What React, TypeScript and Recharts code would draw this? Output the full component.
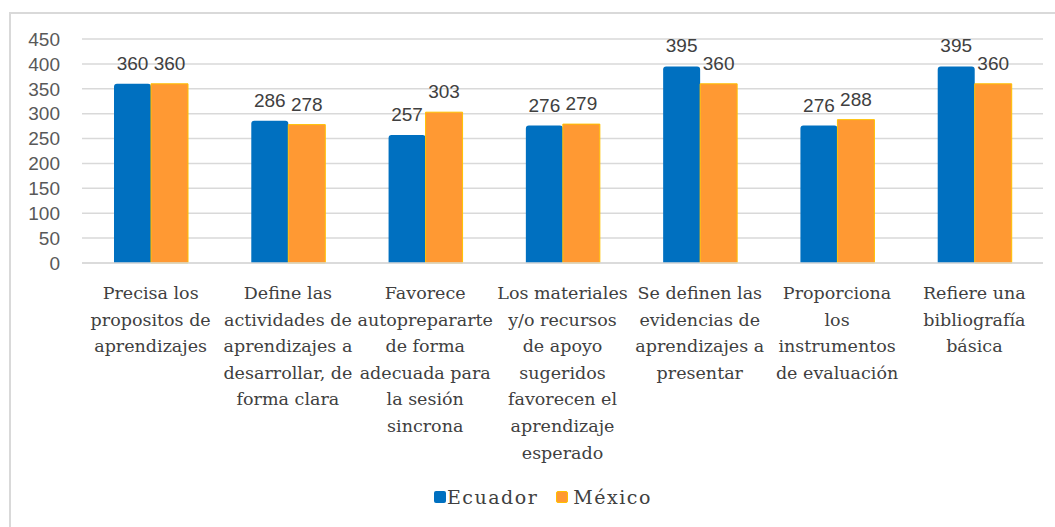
import { Bar, BarChart, CartesianGrid, LabelList, Legend, XAxis, YAxis } from "recharts";

const categories = [
  "Precisa los propositos de aprendizajes",
  "Define las actividades de aprendizajes a desarrollar, de forma clara",
  "Favorece autoprepararte de forma adecuada para la sesion sincrona",
  "Los materiales y/o recursos de apoyo sugeridos favorecen el aprendizaje esperado",
  "Se definen las evidencias de aprendizajes a presentar",
  "Proporciona los instrumentos de evaluación",
  "Refiere una bibliografía básica",
];

const categoryLines = [
  ["Precisa los", "propositos de", "aprendizajes"],
  ["Define las", "actividades de", "aprendizajes a", "desarrollar, de", "forma clara"],
  ["Favorece", "autoprepararte", "de forma", "adecuada para", "la sesión", "sincrona"],
  ["Los materiales", "y/o recursos", "de apoyo", "sugeridos", "favorecen el", "aprendizaje", "esperado"],
  ["Se definen las", "evidencias de", "aprendizajes a", "presentar"],
  ["Proporciona", "los", "instrumentos", "de evaluación"],
  ["Refiere una", "bibliografía", "básica"],
];

const ecuador = [360, 286, 257, 276, 395, 276, 395];
const mexico = [360, 278, 303, 279, 360, 288, 360];
const yTicks = [0, 50, 100, 150, 200, 250, 300, 350, 400, 450];

const data = categories.map((c, i) => ({
  name: c,
  ecuador: ecuador[i],
  mexico: mexico[i],
}));

const BLUE = "#0070C0";
const ORANGE = "#FF9933";
const SERIF = "'DejaVu Serif', 'Liberation Serif', serif";
const SANS = "'Liberation Sans', Arial, sans-serif";

function CategoryTick({ x, y, payload }: { x?: number; y?: number; payload?: { value: string } }) {
  const i = categories.indexOf(payload?.value ?? "");
  const lines = categoryLines[i] ?? [];
  return (
    <text x={x} y={y} textAnchor="middle" style={{ fontFamily: SERIF, fontSize: 17.5 }} fill="#404040">
      {lines.map((l, k) => (
        <tspan key={k} x={x} y={(y ?? 0) + 36 + k * 26.6}>
          {l}
        </tspan>
      ))}
    </text>
  );
}

function LegendContent() {
  const item = (color: string, label: string, gapAfter: number, border?: string) => (
    <span style={{ display: "inline-flex", alignItems: "center", marginRight: gapAfter }}>
      <span
        style={{
          width: 12,
          height: 12,
          background: color,
          border: border ? `1px solid ${border}` : undefined,
          borderRadius: 2,
          marginRight: border ? 5 : 1,
          boxSizing: "border-box",
        }}
      />
      {label}
    </span>
  );
  return (
    <div
      style={{
        display: "flex",
        alignItems: "center",
        height: 30,
        paddingLeft: 434,
        fontFamily: SERIF,
        fontSize: 19,
        letterSpacing: 1.5,
        color: "#404040",
      }}
    >
      {item(BLUE, "Ecuador", 18)}
      {item(ORANGE, "México", 0, "#FFC000")}
    </div>
  );
}

export default function App() {
  return (
    <div
      style={{
        position: "fixed",
        left: 0,
        top: 0,
        width: 1055,
        height: 527,
        overflow: "hidden",
        background: "#fff",
      }}
    >
      <div
        style={{
          position: "absolute",
          left: 9,
          top: 12,
          width: 1100,
          height: 600,
          border: "2px solid #D9D9D9",
        }}
      />
      <div style={{ position: "absolute", left: 0, top: 0 }}>
        <BarChart
          width={1055}
          height={527}
          data={data}
          margin={{ top: 39, right: 12, left: 10, bottom: 15 }}
          barGap={0}
          barSize={37}
        >
          <CartesianGrid vertical={false} stroke="#D9D9D9" strokeWidth={1.5} />
          <XAxis
            dataKey="name"
            interval={0}
            tickLine={false}
            axisLine={{ stroke: "#D9D9D9", strokeWidth: 1.5 }}
            tickSize={0}
            tickMargin={0}
            height={219}
            tick={<CategoryTick />}
          />
          <YAxis
            domain={[0, 450]}
            ticks={yTicks}
            interval={0}
            width={72}
            tickLine={false}
            axisLine={false}
            tickSize={0}
            tickMargin={22}
            tick={{ fontSize: 19, fontFamily: SANS, fill: "#595959" }}
          />
          <Legend
            verticalAlign="bottom"
            content={<LegendContent />}
            wrapperStyle={{ left: 0, width: 1055, bottom: 15 }}
          />
          <Bar dataKey="ecuador" name="Ecuador" fill={BLUE} radius={[3, 3, 0, 0]} isAnimationActive={false}>
            <LabelList
              dataKey="ecuador"
              position="top"
              offset={14}
              style={{ fontSize: 19, fontFamily: SANS, fill: "#404040" }}
            />
          </Bar>
          <Bar
            dataKey="mexico"
            name="México"
            fill={ORANGE}
            stroke="#FFC000"
            strokeWidth={1}
            isAnimationActive={false}
          >
            <LabelList
              dataKey="mexico"
              position="top"
              offset={14}
              style={{ fontSize: 19, fontFamily: SANS, fill: "#404040" }}
            />
          </Bar>
        </BarChart>
      </div>
    </div>
  );
}
